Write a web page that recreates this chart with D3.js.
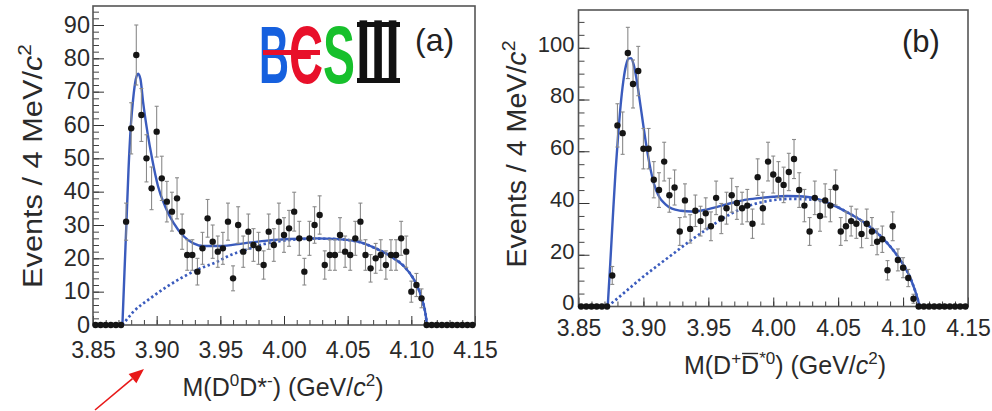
<!DOCTYPE html>
<html>
<head>
<meta charset="utf-8">
<script src="https://cdn.jsdelivr.net/npm/d3@7"></script>
<style>
  html, body { margin: 0; padding: 0; background: #fff; }
  svg { display: block; }
  text { font-family: "Liberation Sans", Arial, Helvetica, sans-serif; }
</style>
</head>
<body>
<svg id="chart" width="992" height="411"></svg>
<script>
// Bin centres of the 4 MeV/c^2 mass histogram (GeV/c^2)
const massBins = [
  3.852,3.856,3.860,3.864,3.868,3.872,3.876,3.880,3.884,3.888,
  3.892,3.896,3.900,3.904,3.908,3.912,3.916,3.920,3.924,3.928,
  3.932,3.936,3.940,3.944,3.948,3.952,3.956,3.960,3.964,3.968,
  3.972,3.976,3.980,3.984,3.988,3.992,3.996,4.000,4.004,4.008,
  4.012,4.016,4.020,4.024,4.028,4.032,4.036,4.040,4.044,4.048,
  4.052,4.056,4.060,4.064,4.068,4.072,4.076,4.080,4.084,4.088,
  4.092,4.096,4.100,4.104,4.108,4.112,4.116,4.120,4.124,4.128,
  4.132,4.136,4.140,4.144,4.148
];

// Events per bin, M(D0 D*-)
const countsA = [
  0,0,0,0,0,0,31,59,81,63,
  50,41,58,44,37,34,38,28,21,21,
  16,23,32,25,22,23,31,14,30,22,
  28,24,23,18,28,24,31,27,29,34,
  26,16,26,30,33,18,21,21,27,22,
  21,26,31,21,17,20,21,18,21,21,
  26,22,10,12,8,0,0,0,0,0,
  0,0,0,0,0
];

// Events per bin, M(D+ anti-D*0)
const countsB = [
  0,0,0,0,0,0,12,70,67,98,
  86,91,61,61,49,45,56,43,46,29,
  41,30,37,33,36,31,42,34,38,43,
  40,38,39,32,50,38,56,51,49,47,
  52,57,45,39,29,42,35,41,39,46,
  29,31,33,32,28,32,29,25,26,14,
  31,18,15,11,3,0,0,0,0,0,
  0,0,0,0,0
];

// Fit result, panel (a): total (solid) and background (dotted)
const fitMassA  = [3.8731,3.8747,3.8763,3.8779,3.8797,3.8815,3.8836,3.8855,3.8873,3.8894,
                   3.8928,3.8965,3.9010,3.9065,3.9131,3.9210,3.9289,3.9368,3.9499,3.9683,
                   3.9867,4.0040,4.0250,4.0400,4.0580,4.0720,4.0842,4.0940,4.1015,4.1060,
                   4.1090,4.1108,4.1118,4.1122];
const fitTotalA = [0,15.7,31,46.7,59.7,67.7,73.7,75.4,73.7,66.7,
                   57.7,49.7,41.7,35.7,30.7,26.7,24.5,23.7,23.7,24.5,
                   25.3,25.8,26.0,25.8,25.0,23.0,20.5,17.7,14.0,10.5,
                   7.0,4.0,1.5,0];
const bkgMassA  = [3.8731,3.8818,3.8950,3.9081,3.9212,3.9344,3.9476,3.9580,3.9712,3.9843,
                   3.9975,4.0106,4.0237,4.0400,4.0580,4.0720,4.0842,4.0940,4.1015,4.1060,
                   4.1090,4.1108,4.1118,4.1122];
const bkgA      = [0,4,8,11.5,14.5,17,19,21,22.7,24.3,
                   25.2,25.7,25.9,25.8,25.0,23.0,20.5,17.7,14.0,10.5,
                   7.0,4.0,1.5,0];

// Fit result, panel (b)
const fitMassB  = [3.8725,3.8745,3.8765,3.8785,3.8805,3.8825,3.8845,3.8865,3.8885,3.8905,
                   3.8925,3.8945,3.8965,3.8985,3.9005,3.9028,3.9055,3.9080,3.9120,3.9170,
                   3.9220,3.9290,3.9370,3.9470,3.9575,3.9680,3.9780,3.9890,4.0000,4.0100,
                   4.0200,4.0320,4.0450,4.0570,4.0715,4.0845,4.0965,4.1040,4.1090,4.1113,
                   4.1128];
const fitTotalB = [0,17,35,52,66,78,87,93,95.8,96,
                   93.5,88.5,82,75,68,60.5,53,47.6,42.5,39.5,
                   37.8,37.0,36.7,37.3,38.6,40.0,41.2,41.9,42.4,42.7,
                   42.6,41.9,39.5,36.4,32.0,26.3,19.0,12.8,6.5,2.8,
                   0];
const bkgMassB  = [3.8725,3.8847,3.8976,3.9106,3.9235,3.9350,3.9468,3.9580,3.9680,3.9830,
                   3.9986,4.0142,4.0297,4.0400,4.0450,4.0570,4.0715,4.0845,4.0965,4.1040,
                   4.1090,4.1113,4.1128];
const bkgB      = [0,5.1,10.6,15.7,20.6,25.0,29.2,33.0,36.0,39.2,
                   41.0,41.6,41.3,40.3,39.5,36.4,32.0,26.3,19.0,12.8,
                   6.5,2.8,0];

// Axis ticks
const xTickValues = [3.85, 3.90, 3.95, 4.00, 4.05, 4.10, 4.15];
const yTicksA = [0, 10, 20, 30, 40, 50, 60, 70, 80, 90];
const yTicksB = [0, 20, 40, 60, 80, 100];

const svg = d3.select("#chart");
const LINE_BLUE = "#3a5bbd";

// Text with superscripts / italics / overlines built from tspans
function richText(sel, parts, size) {
  let shift = 0;
  const overIdx = [];
  let idx = 0;
  parts.forEach(p => {
    const t = sel.append("tspan").text(p.t);
    const target = p.sup ? -0.42 * size : 0;
    if (target !== shift) { t.attr("dy", target - shift); shift = target; }
    if (p.sup) t.attr("font-size", size * 0.68);
    if (p.it) t.attr("font-style", "italic");
    if (p.over) overIdx.push(idx);
    idx += p.t.length;
  });
  return overIdx;
}

function drawPanel(cfg) {
  const g = svg.append("g");
  const x = d3.scaleLinear().domain([3.85, 4.15]).range([cfg.left, cfg.right]);
  const y = d3.scaleLinear().domain([0, cfg.yMax]).range([cfg.bottom, cfg.top]);

  // x axis: minor ticks every 10 MeV, major every 50 MeV
  const xMinor = d3.range(3.86, 4.145, 0.01);
  g.append("g").attr("transform", `translate(0,${cfg.bottom})`)
    .attr("color", "#444")
    .call(d3.axisBottom(x).tickValues(xMinor).tickSize(-5).tickFormat(""))
    .call(a => a.select(".domain").remove());
  const xa = g.append("g").attr("transform", `translate(0,${cfg.bottom})`)
    .attr("color", "#333")
    .call(d3.axisBottom(x).tickValues(xTickValues).tickSize(-9)
      .tickPadding(cfg.xPad).tickFormat(d3.format(".2f")))
    .call(a => a.select(".domain").remove());
  xa.selectAll("text").attr("font-size", cfg.xFont).attr("fill", "#2a2a2a")
    .attr("font-family", "Liberation Sans, Arial, sans-serif");

  // y axis
  g.append("g").attr("transform", `translate(${cfg.left},0)`)
    .attr("color", "#444")
    .call(d3.axisLeft(y).tickValues(cfg.yMinor).tickSize(-6).tickFormat(""))
    .call(a => a.select(".domain").remove());
  const ya = g.append("g").attr("transform", `translate(${cfg.left},0)`)
    .attr("color", "#333")
    .call(d3.axisLeft(y).tickValues(cfg.yTicks).tickSize(-11).tickPadding(cfg.yPad))
    .call(a => a.select(".domain").remove());
  ya.selectAll("text").attr("font-size", cfg.yFont).attr("fill", "#2a2a2a")
    .attr("dy", cfg.yDy)
    .attr("font-family", "Liberation Sans, Arial, sans-serif");

  // frame
  g.append("rect")
    .attr("x", cfg.left).attr("y", cfg.top)
    .attr("width", cfg.right - cfg.left).attr("height", cfg.bottom - cfg.top)
    .attr("fill", "none").attr("stroke", "#555").attr("stroke-width", 1.6);

  // fit curves
  const line = d3.line().x(d => x(d[0])).y(d => y(d[1])).curve(d3.curveMonotoneX);
  g.append("path")
    .datum(cfg.bkgMass.map((m, i) => [m, cfg.bkg[i]]))
    .attr("d", line).attr("fill", "none").attr("stroke", LINE_BLUE)
    .attr("stroke-width", 2.7).attr("stroke-dasharray", "2.4,2.6");
  g.append("path")
    .datum(cfg.fitMass.map((m, i) => [m, cfg.fit[i]]))
    .attr("d", line).attr("fill", "none").attr("stroke", LINE_BLUE)
    .attr("stroke-width", 2.4);

  // data points with statistical error bars
  const pts = massBins.map((m, i) => ({ m, n: cfg.counts[i], e: Math.sqrt(cfg.counts[i]) }));
  const eb = g.append("g").attr("stroke", "#8a8a8a").attr("stroke-width", 1.1);
  pts.filter(d => d.n > 0).forEach(d => {
    const cx = x(d.m);
    eb.append("line").attr("x1", cx).attr("x2", cx)
      .attr("y1", y(d.n - d.e)).attr("y2", y(d.n + d.e));
    eb.append("line").attr("x1", cx - 2).attr("x2", cx + 2)
      .attr("y1", y(d.n + d.e)).attr("y2", y(d.n + d.e));
    eb.append("line").attr("x1", cx - 2).attr("x2", cx + 2)
      .attr("y1", y(d.n - d.e)).attr("y2", y(d.n - d.e));
  });
  g.append("g").selectAll("circle").data(pts).join("circle")
    .attr("cx", d => x(d.m)).attr("cy", d => y(d.n)).attr("r", 3.2)
    .attr("fill", "#151515");

  // axis titles
  const yt = g.append("text")
    .attr("transform", `translate(${cfg.yTitleX},${cfg.yTitleY}) rotate(-90)`)
    .attr("text-anchor", "middle").attr("font-size", cfg.titleFont).attr("fill", "#2a2a2a")
    .attr("textLength", cfg.yTitleLen).attr("lengthAdjust", "spacingAndGlyphs");
  richText(yt, [{ t: "Events / 4 MeV/" }, { t: "c", it: true }, { t: "2", sup: true }], cfg.titleFont);

  const xt = g.append("text")
    .attr("x", cfg.xTitleX).attr("y", cfg.xTitleY)
    .attr("text-anchor", "middle").attr("font-size", cfg.xTitleFont).attr("fill", "#2a2a2a");
  const over = richText(xt, cfg.xTitle, cfg.xTitleFont);
  over.forEach(i => {
    const node = xt.node();
    const s = node.getStartPositionOfChar(i), e = node.getEndPositionOfChar(i);
    g.append("line").attr("x1", s.x + 1).attr("x2", e.x - 1)
      .attr("y1", cfg.xTitleY - cfg.xTitleFont * 0.82).attr("y2", cfg.xTitleY - cfg.xTitleFont * 0.82)
      .attr("stroke", "#2a2a2a").attr("stroke-width", 1.4);
  });

  // panel tag
  g.append("text").attr("x", cfg.tagX).attr("y", cfg.tagY)
    .attr("font-family", "Liberation Serif, Times New Roman, serif")
    .attr("font-size", cfg.tagFont).attr("fill", "#222").text(cfg.tag);
}

drawPanel({
  left: 93, right: 475, top: 6, bottom: 325, yMax: 95.7,
  yTicks: yTicksA, yMinor: d3.range(2, 95, 2),
  counts: countsA, fitMass: fitMassA, fit: fitTotalA, bkgMass: bkgMassA, bkg: bkgA,
  xPad: 17, yPad: 3, xFont: 23, yFont: 23.5, yDy: "0.3em",
  titleFont: 27, yTitleX: 42, yTitleY: 166, yTitleLen: 244,
  xTitleFont: 25, xTitleX: 283, xTitleY: 396,
  xTitle: [{ t: "M(D" }, { t: "0", sup: true }, { t: "D*" }, { t: "-", sup: true },
           { t: ") (GeV/" }, { t: "c", it: true }, { t: "2", sup: true }, { t: ")" }],
  tag: "(a)", tagX: 415, tagY: 51, tagFont: 32
});

drawPanel({
  left: 578.5, right: 968, top: 10, bottom: 306.5, yMax: 114.6,
  yTicks: yTicksB, yMinor: d3.range(5, 114, 5),
  counts: countsB, fitMass: fitMassB, fit: fitTotalB, bkgMass: bkgMassB, bkg: bkgB,
  xPad: 13.5, yPad: 4, xFont: 23, yFont: 22, yDy: "0.15em",
  titleFont: 27, yTitleX: 526, yTitleY: 154, yTitleLen: 227,
  xTitleFont: 25, xTitleX: 785, xTitleY: 374,
  xTitle: [{ t: "M(D" }, { t: "+", sup: true }, { t: "D", over: true }, { t: "*0", sup: true },
           { t: ") (GeV/" }, { t: "c", it: true }, { t: "2", sup: true }, { t: ")" }],
  tag: "(b)", tagX: 902, tagY: 52, tagFont: 31
});

// experiment logo: condensed coloured letters
const logo = svg.append("g");
function logoGlyph(ch, x, width, family, size, color) {
  const t = logo.append("text")
    .attr("font-family", family).attr("font-weight", "bold")
    .attr("font-size", size).attr("fill", color).text(ch);
  const w = t.node().getComputedTextLength();
  t.attr("transform", `translate(${x},83) scale(${width / w},1)`);
}
logoGlyph("B", 259, 30, "DejaVu Sans, sans-serif", 82, "#1660de");
logoGlyph("\u0404", 289, 34, "DejaVu Sans, sans-serif", 82, "#e8102a");
logo.append("rect").attr("x", 263).attr("y", 50).attr("width", 57).attr("height", 5)
  .attr("fill", "#e8102a");
logoGlyph("S", 323, 32, "DejaVu Sans, sans-serif", 82, "#17c02c");
logoGlyph("III", 356, 44, "Liberation Serif, serif", 91, "#111");
// joined serifs of the roman numeral
logo.append("rect").attr("x", 357).attr("y", 22).attr("width", 43).attr("height", 5).attr("fill", "#111");
logo.append("rect").attr("x", 357).attr("y", 78).attr("width", 43).attr("height", 5).attr("fill", "#111");

// red pointer arrow below panel (a)
const arrow = svg.append("g").attr("fill", "#e81818").attr("stroke", "#e81818");
const ax0 = 95, ay0 = 410, ax1 = 144, ay1 = 369;
const ang = Math.atan2(ay1 - ay0, ax1 - ax0);
const hl = 15, hw = 6;
const bx = ax1 - hl * Math.cos(ang), by = ay1 - hl * Math.sin(ang);
arrow.append("line").attr("x1", ax0).attr("y1", ay0).attr("x2", bx).attr("y2", by)
  .attr("stroke-width", 1.6);
arrow.append("polygon").attr("stroke", "none")
  .attr("points", [
    [ax1, ay1],
    [bx + hw * Math.sin(ang), by - hw * Math.cos(ang)],
    [bx - hw * Math.sin(ang), by + hw * Math.cos(ang)]
  ].map(p => p.join(",")).join(" "));
</script>
</body>
</html>
